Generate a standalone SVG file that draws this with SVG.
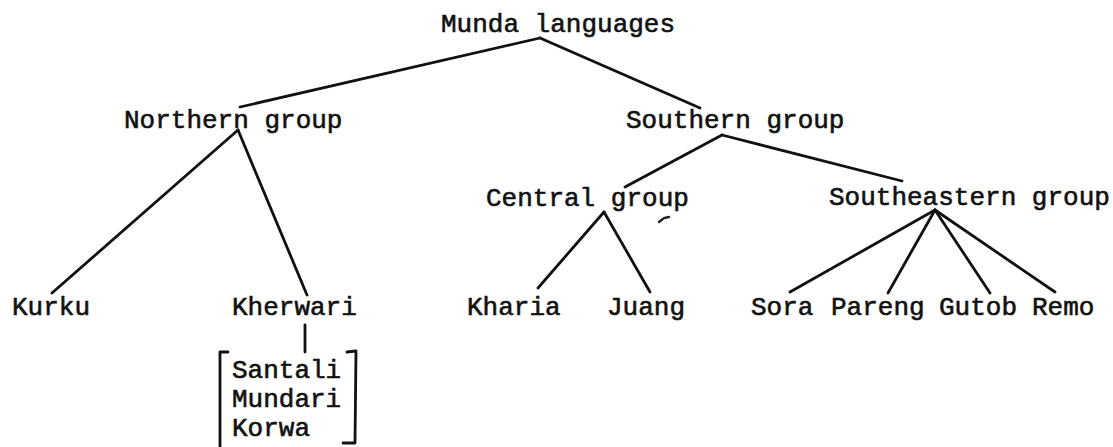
<svg xmlns="http://www.w3.org/2000/svg" width="1113" height="447" viewBox="0 0 1113 447">
  <style>
    .lbl { font-family: "Liberation Mono", "Courier New", monospace; font-size: 26px; fill: #111; stroke: #111; stroke-width: 0.6px; }
    .edge { fill: none; stroke: #111; stroke-width: 2.8; stroke-linecap: round; stroke-linejoin: round; }
  </style>
  <rect width="1113" height="447" fill="#fff"/>

  <!-- tree branches -->
  <g id="connectors" class="edge">
    <path d="M540,38 L240,107"/>
    <path d="M540,38 L700,108"/>
    <path d="M238,130 L52,293"/>
    <path d="M238,130 L307,295"/>
    <path d="M305,325 L305,352"/>
    <path d="M722,135 L625,187"/>
    <path d="M722,135 L902,181"/>
    <path d="M604,212 L538,288"/>
    <path d="M604,212 L650,292"/>
    <path d="M935,210 L790,292"/>
    <path d="M935,210 L888,293"/>
    <path d="M935,210 L990,293"/>
    <path d="M935,210 L1055,292"/>
  </g>

  <g id="munda"><text class="lbl" x="441" y="32">Munda languages</text></g>
  <g id="northern"><text class="lbl" x="124" y="128">Northern group</text></g>
  <g id="southern"><text class="lbl" x="626" y="128">Southern group</text></g>
  <g id="central"><text class="lbl" x="486" y="206">Central group</text></g>
  <g id="southeastern"><text class="lbl" x="829" y="205">Southeastern group</text></g>

  <g id="kurku"><text class="lbl" x="12" y="315">Kurku</text></g>
  <g id="kherwari"><text class="lbl" x="232" y="315">Kherwari</text></g>
  <g id="kharia"><text class="lbl" x="467" y="315">Kharia</text></g>
  <g id="juang"><text class="lbl" x="607" y="315">Juang</text></g>
  <g id="sora"><text class="lbl" x="751" y="315">Sora</text></g>
  <g id="pareng"><text class="lbl" x="831" y="315">Pareng</text></g>
  <g id="gutob"><text class="lbl" x="939" y="315">Gutob</text></g>
  <g id="remo"><text class="lbl" x="1032" y="315">Remo</text></g>

  <!-- bracketed list under Kherwari -->
  <g id="kherwari-members">
    <path class="edge" d="M228,352 L220,352 L220,447"/>
    <path class="edge" d="M347,352 L356,351 L355,443 L343,443"/>
    <text class="lbl" x="232" y="378">Santali</text>
    <text class="lbl" x="232" y="407">Mundari</text>
    <text class="lbl" x="232" y="436">Korwa</text>
  </g>

  <!-- small ink speck -->
  <path d="M659,222 L664,218 L669,217" fill="none" stroke="#222" stroke-width="2.4" stroke-linecap="round"/>
</svg>
